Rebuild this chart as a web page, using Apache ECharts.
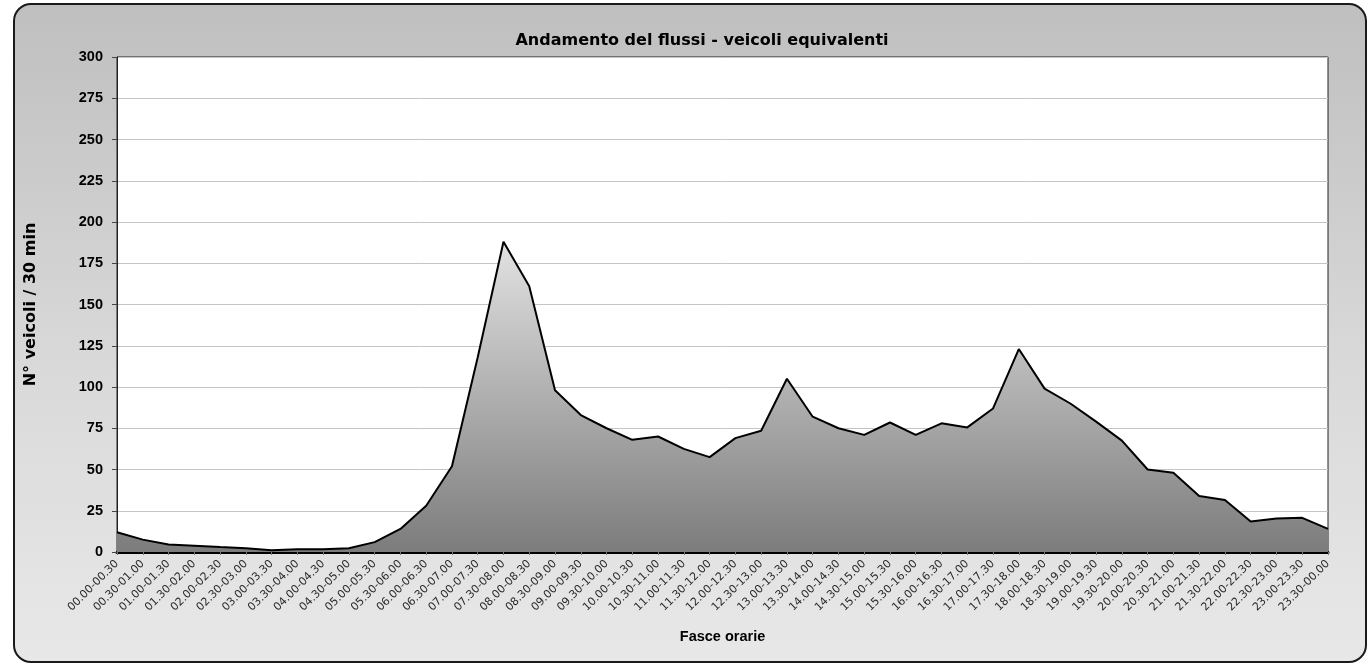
<!DOCTYPE html>
<html>
<head>
<meta charset="utf-8">
<script src="https://cdn.jsdelivr.net/npm/echarts@6/dist/echarts.min.js"></script>
<style>
    html, body { margin:0; padding:0; background:#fff; }
    #panel {
        position:absolute; left:13px; top:3px; width:1350px; height:656px;
        border:2px solid #1a1a1a; border-radius:18px;
        background:linear-gradient(to bottom, #bfbfbf 0%, #d9d9d9 55%, #e8e8e8 100%);
    }
    #main { position:absolute; left:0; top:0; width:1367px; height:668px; }
</style>
</head>
<body>
<div id="panel"></div>
<div id="main"></div>
<script type="text/javascript">
    /* fasce orarie */
    var fasce = ['00.00-00.30','00.30-01.00','01.00-01.30','01.30-02.00','02.00-02.30','02.30-03.00',
        '03.00-03.30','03.30-04.00','04.00-04.30','04.30-05.00','05.00-05.30','05.30-06.00',
        '06.00-06.30','06.30-07.00','07.00-07.30','07.30-08.00','08.00-08.30','08.30-09.00',
        '09.00-09.30','09.30-10.00','10.00-10.30','10.30-11.00','11.00-11.30','11.30-12.00',
        '12.00-12.30','12.30-13.00','13.00-13.30','13.30-14.00','14.00-14.30','14.30-15.00',
        '15.00-15.30','15.30-16.00','16.00-16.30','16.30-17.00','17.00-17.30','17.30-18.00',
        '18.00-18.30','18.30-19.00','19.00-19.30','19.30-20.00','20.00-20.30','20.30-21.00',
        '21.00-21.30','21.30-22.00','22.00-22.30','22.30-23.00','23.00-23.30','23.30-00.00'];
    /* veicoli equivalenti ogni 30 min */
    var veicoli = [12, 7.5, 4.5, 3.8, 3, 2.3, 1, 1.7, 1.7, 2.3, 6, 14,
        28, 52, 118, 188, 161, 98, 83, 75, 68, 70, 62.5, 57.5,
        69, 73.5, 105, 82, 75, 71, 78.5, 71, 78, 75.5, 87, 123,
        99, 90, 79, 67.5, 50, 48, 34, 31.5, 18.5, 20.3, 20.7, 14];
    var yTicks = { min: 0, max: 300, step: 25 };

    var myChart = echarts.init(document.getElementById('main'));
    var option = {
        backgroundColor: 'transparent',
        title: {
            text: 'Andamento del flussi - veicoli equivalenti',
            left: 697,
            top: 28,
            textAlign: 'center',
            textStyle: { fontFamily: 'DejaVu Sans', fontSize: 16, fontWeight: 'bold', color: '#000' }
        },
        grid: {
            left: 117, right: 39, top: 57, bottom: 116,
            show: true,
            backgroundColor: '#fff',
            borderColor: '#222',
            borderWidth: 1
        },
        xAxis: {
            type: 'category',
            boundaryGap: false,
            data: fasce,
            name: 'Fasce orarie',
            nameLocation: 'middle',
            nameGap: 77,
            nameTextStyle: { fontFamily: 'Liberation Sans, Arial', fontSize: 14.5, fontWeight: 'bold', color: '#000' },
            axisLine: { lineStyle: { color: '#000', width: 3 } },
            axisTick: { show: true, length: 3, interval: 0, lineStyle: { color: '#777' } },
            axisLabel: {
                rotate: 45,
                interval: 0,
                margin: 10,
                fontFamily: 'DejaVu Sans',
                fontSize: 11,
                color: '#2a2a2a'
            }
        },
        yAxis: {
            type: 'value',
            min: yTicks.min,
            max: yTicks.max,
            interval: yTicks.step,
            name: 'N° veicoli / 30 min',
            nameLocation: 'middle',
            nameGap: 78,
            nameTextStyle: { fontFamily: 'DejaVu Sans', fontSize: 16, fontWeight: 'bold', color: '#000' },
            axisLine: { show: true, lineStyle: { color: '#222', width: 1 } },
            axisTick: { show: true, length: 5, lineStyle: { color: '#444' } },
            axisLabel: {
                margin: 14,
                fontFamily: 'Liberation Sans, Arial',
                fontSize: 14.5,
                fontWeight: 'bold',
                color: '#000'
            },
            splitLine: { lineStyle: { color: '#c4c4c4', width: 1 } }
        },
        series: [{
            name: 'veicoli equivalenti',
            type: 'line',
            data: veicoli,
            symbol: 'none',
            smooth: false,
            lineStyle: { color: '#000', width: 2 },
            areaStyle: {
                opacity: 1,
                color: new echarts.graphic.LinearGradient(0, 0, 0, 1, [
                    { offset: 0, color: '#e2e2e2' },
                    { offset: 1, color: '#7c7c7c' }
                ])
            }
        }]
    };
    myChart.setOption(option);
</script>
</body>
</html>
